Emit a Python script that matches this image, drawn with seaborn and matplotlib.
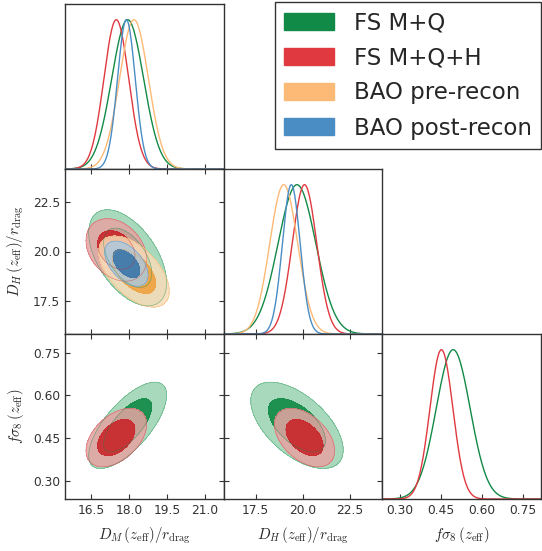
import numpy as np
import pandas as pd
import seaborn as sns
import matplotlib.pyplot as plt
from matplotlib.patches import Patch

# Dados (estimados da figura): médias, desvios e correlações de cada análise
labels = ["FS M+Q", "FS M+Q+H", "BAO pre-recon", "BAO post-recon"]
line_colors = ["#128a47", "#e0393f", "#fdb976", "#4a8dc4"]
dark_colors = ["#0f8a45", "#c9262b", "#efa23f", "#3b76a8"]
light_colors = ["#99d3b1", "#e6a3a3", "#f8dcb8", "#adc9dd"]

dm_mean = [17.95, 17.50, 18.20, 17.90]
dm_sigma = [0.63, 0.49, 0.57, 0.35]
dh_mean = [19.68, 20.08, 18.98, 19.38]
dh_sigma = [1.0, 0.65, 0.74, 0.47]
fs8_mean = [0.495, 0.452]
fs8_sigma = [0.062, 0.042]
corr_dm_dh = [-0.52, -0.30, -0.55, -0.50]
corr_dm_fs8 = [0.70, 0.45]
corr_dh_fs8 = [-0.57, -0.45]

param_labels = [r"$D_M\,(z_{\rm eff})/r_{\rm drag}$",
                r"$D_H\,(z_{\rm eff})/r_{\rm drag}$",
                r"$f\sigma_8\,(z_{\rm eff})$"]
limits = [(15.47, 21.75), (15.8, 24.2), (0.236, 0.816)]
ticks = [[16.5, 18.0, 19.5, 21.0], [17.5, 20.0, 22.5], [0.30, 0.45, 0.60, 0.75]]
tick_labels = [["16.5", "18.0", "19.5", "21.0"], ["17.5", "20.0", "22.5"],
               ["0.30", "0.45", "0.60", "0.75"]]

means = [dm_mean, dh_mean, fs8_mean]
sigmas = [dm_sigma, dh_sigma, fs8_sigma]
corrs = {(0, 1): corr_dm_dh, (0, 2): corr_dm_fs8, (1, 2): corr_dh_fs8}

sns.set_theme(style="ticks")
plt.rcParams.update({
    "mathtext.fontset": "cm",
    "axes.edgecolor": "#333333",
    "axes.linewidth": 1.0,
    "xtick.direction": "in",
    "ytick.direction": "in",
    "xtick.major.size": 3.6,
    "ytick.major.size": 3.6,
    "xtick.major.width": 0.8,
    "ytick.major.width": 0.8,
    "xtick.color": "#333333",
    "ytick.color": "#333333",
    "xtick.labelsize": 8.8,
    "ytick.labelsize": 8.8,
})
plt.rcParams["font.family"] = ["DejaVu Sans"]

fig, axes = plt.subplots(3, 3, figsize=(5.42, 5.51), dpi=100)
fig.subplots_adjust(left=65 / 542, right=541 / 542, top=1 - 4 / 551,
                    bottom=1 - 499 / 551, wspace=0, hspace=0)

# Níveis 68% e 95% para uma gaussiana 2D (em r^2)
r2_68 = -2 * np.log(0.32)
r2_95 = -2 * np.log(0.05)

for i in range(3):
    for j in range(3):
        ax = axes[i, j]
        if j > i:
            ax.axis("off")
            continue
        ax.set_xlim(limits[j])
        ax.set_xticks(ticks[j])
        ax.set_xticklabels(tick_labels[j])
        if i == j:
            # distribuições 1D
            x = np.linspace(limits[j][0], limits[j][1], 400)
            frames = []
            for k in range(len(means[j])):
                y = np.exp(-0.5 * ((x - means[j][k]) / sigmas[j][k]) ** 2)
                frames.append(pd.DataFrame({"x": x, "p": y, "set": labels[k]}))
            df = pd.concat(frames)
            sns.lineplot(data=df, x="x", y="p", hue="set", palette=line_colors[:len(means[j])],
                         linewidth=1.0, legend=False, ax=ax, sort=False)
            ax.set_ylim(0, 1.105)
            ax.set_yticks([])
            ax.tick_params(axis="x", bottom=True, top=False)
        else:
            # contornos 2D
            gx = np.linspace(limits[j][0], limits[j][1], 400)
            gy = np.linspace(limits[i][0], limits[i][1], 400)
            X, Y = np.meshgrid(gx, gy)
            for k in range(len(means[i])):
                rho = corrs[(j, i)][k]
                dx = (X - means[j][k]) / sigmas[j][k]
                dy = (Y - means[i][k]) / sigmas[i][k]
                r2 = (dx ** 2 - 2 * rho * dx * dy + dy ** 2) / (1 - rho ** 2)
                ax.contourf(X, Y, r2, levels=[-1, r2_95], colors=[light_colors[k]], alpha=0.85)
                ax.contourf(X, Y, r2, levels=[-1, r2_68], colors=[dark_colors[k]], alpha=0.9)
                ax.contour(X, Y, r2, levels=[r2_68, r2_95], colors=[dark_colors[k]],
                           linewidths=0.5, alpha=0.45)
            ax.set_ylim(limits[i])
            ax.set_yticks(ticks[i])
            ax.set_yticklabels(tick_labels[i])
            ax.tick_params(axis="both", bottom=True, top=True, left=True, right=True)
        ax.set_xlabel("")
        ax.set_ylabel("")
        if i == 2:
            ax.set_xlabel(param_labels[j], fontsize=10.8, labelpad=6)
        else:
            ax.tick_params(labelbottom=False)
        if j == 0 and i > 0:
            ax.set_ylabel(param_labels[i], fontsize=10.8, labelpad=5)
        elif i != j:
            ax.tick_params(labelleft=False)

handles = [Patch(facecolor=c, edgecolor=c, label=l) for c, l in zip(line_colors, labels)]
fig.legend(handles=handles, loc="upper right", bbox_to_anchor=(541 / 542, 1 - 2 / 551),
           fontsize=16.5, handlelength=2.18, handleheight=0.79, handletextpad=0.87,
           labelspacing=0.53, borderaxespad=0, borderpad=0.4, frameon=True, fancybox=False,
           edgecolor="#333333", framealpha=1)

plt.savefig("out.png", dpi=100)
